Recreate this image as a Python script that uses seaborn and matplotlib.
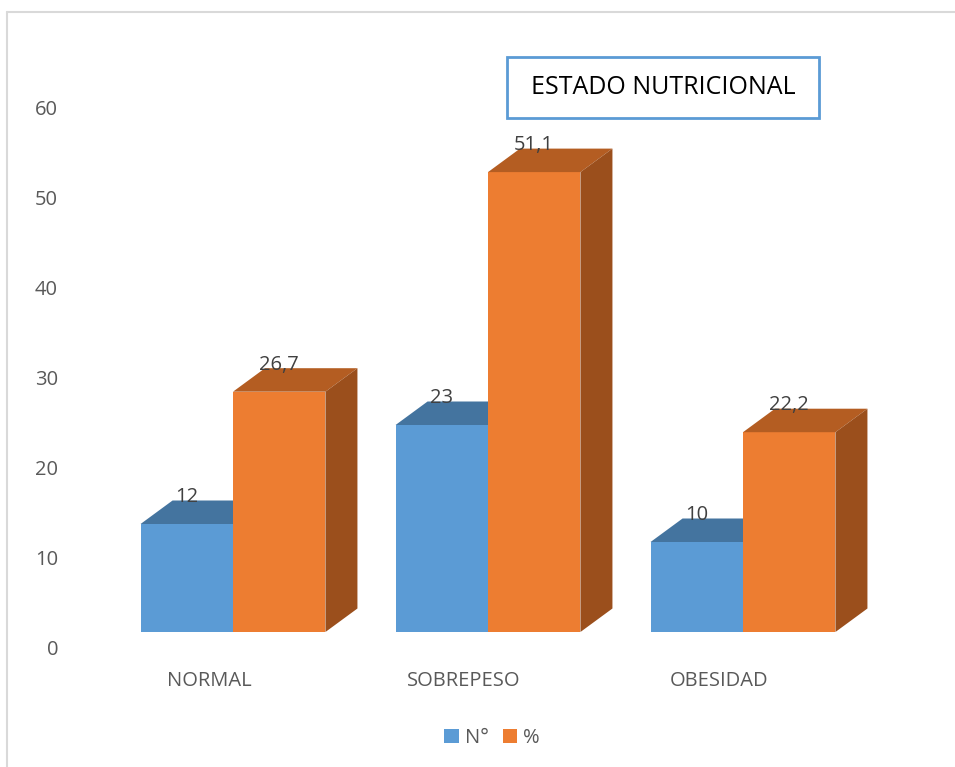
import numpy as np
import pandas as pd
import matplotlib
matplotlib.use("Agg")
import matplotlib.pyplot as plt
import matplotlib.transforms as mtransforms
from matplotlib.patches import Polygon, Rectangle
from matplotlib.lines import Line2D
import seaborn as sns

# ---------------- data ----------------
categories = ["NORMAL", "SOBREPESO", "OBESIDAD"]
series_names = ["N°", "%"]
n_values = [12, 23, 10]
pct_values = [26.7, 51.1, 22.2]
yticks = [0, 10, 20, 30, 40, 50, 60]
title = "ESTADO NUTRICIONAL"

# ---------------- style ----------------
sns.set_theme(style="white")
plt.rcParams["font.family"] = ["Open Sans", "DejaVu Sans"]

front_colors = ["#5B9BD5", "#ED7D31"]
top_colors = ["#44749F", "#B45D22"]
side_colors = ["#3A6590", "#9B4F1C"]

W, H = 955, 767
fig = plt.figure(figsize=(W / 100, H / 100), dpi=100)
ax = fig.add_axes([0, 0, 1, 1])

df = pd.DataFrame({
    "cat": categories * 2,
    "serie": [series_names[0]] * 3 + [series_names[1]] * 3,
    "val": n_values + pct_values,
})

sns.barplot(data=df, x="cat", y="val", hue="serie", order=categories,
            hue_order=series_names, palette=front_colors, saturation=1,
            width=0.725, ax=ax, legend=True, linewidth=0)

# pixel scaling: x unit = 255 px, y unit = 9 px; x=0 at px 233, y=0 at row 632
PXX, PXY = 255.0, 9.0
x0px, y0px = 233.0, 632.0
ax.set_xlim(-x0px / PXX, (W - x0px) / PXX)
ax.set_ylim(-(H - y0px) / PXY, y0px / PXY)
ax.axis("off")

dx = 32.0 / PXX
dy = 23.5 / PXY

bars = [p for p in ax.patches if isinstance(p, Rectangle) and p.get_height() > 0]
bars = bars[:6]
for i, p in enumerate(bars):
    s = 0 if i < 3 else 1
    x = p.get_x(); w = p.get_width(); h = p.get_height()
    p.set_zorder(2 + 2 * s)
    top = Polygon([(x, h), (x + w, h), (x + w + dx, h + dy), (x + dx, h + dy)],
                  closed=True, facecolor=top_colors[s], edgecolor="none",
                  zorder=2.5 + 2 * s)
    side = Polygon([(x + w, 0), (x + w + dx, dy), (x + w + dx, h + dy), (x + w, h)],
                   closed=True, facecolor=side_colors[s], edgecolor="none",
                   zorder=2.5 + 2 * s)
    ax.add_patch(top)
    ax.add_patch(side)
    lbl = f"{h:g}".replace(".", ",")
    ax.text(x + w / 2, h + dy + 3.5 / PXY, lbl, ha="center", va="center",
            fontsize=14.5, color="#404040", zorder=10)

# y tick labels (Excel 3D wall offset: labels sit 18px below the front baseline)
ylab_tr = mtransforms.blended_transform_factory(fig.transFigure, ax.transData)
for t in yticks:
    ax.text(58 / W, t - 18 / PXY, f"{t}", transform=ylab_tr, ha="right",
            va="center", fontsize=14.5, color="#595959")

# category labels
cat_tr = mtransforms.offset_copy(ax.transData, fig=fig, x=-24, y=0, units="dots")
for i, c in enumerate(categories):
    ax.text(i, (y0px - 681) / PXY, c, transform=cat_tr, ha="center",
            va="center", fontsize=14.5, color="#595959")

# legend
sns.move_legend(ax, "center", bbox_to_anchor=(492 / W, 1 - 738 / H), ncol=2,
                frameon=False, title=None, fontsize=14.5, handlelength=0.72,
                handleheight=0.72, handletextpad=0.3, columnspacing=0.7)
for t in ax.get_legend().get_texts():
    t.set_color("#595959")

# title box
bx0, bx1, by0, by1 = 507, 819, 57, 118
fig.add_artist(Rectangle((bx0 / W, 1 - by1 / H), (bx1 - bx0) / W, (by1 - by0) / H,
                         transform=fig.transFigure, facecolor="white",
                         edgecolor="#5B9BD5", linewidth=2, zorder=5))
fig.text((bx0 + bx1) / 2 / W, 1 - 88 / H, title, ha="center", va="center",
         fontsize=18, color="black", zorder=6)

# chart border (top and left visible)
fig.add_artist(Line2D([7 / W, 1], [1 - 12 / H, 1 - 12 / H], transform=fig.transFigure,
                      color="#D9D9D9", linewidth=1.5))
fig.add_artist(Line2D([7 / W, 7 / W], [0, 1 - 12 / H], transform=fig.transFigure,
                      color="#D9D9D9", linewidth=1.5))

fig.savefig("out.png", dpi=100, facecolor="white")
